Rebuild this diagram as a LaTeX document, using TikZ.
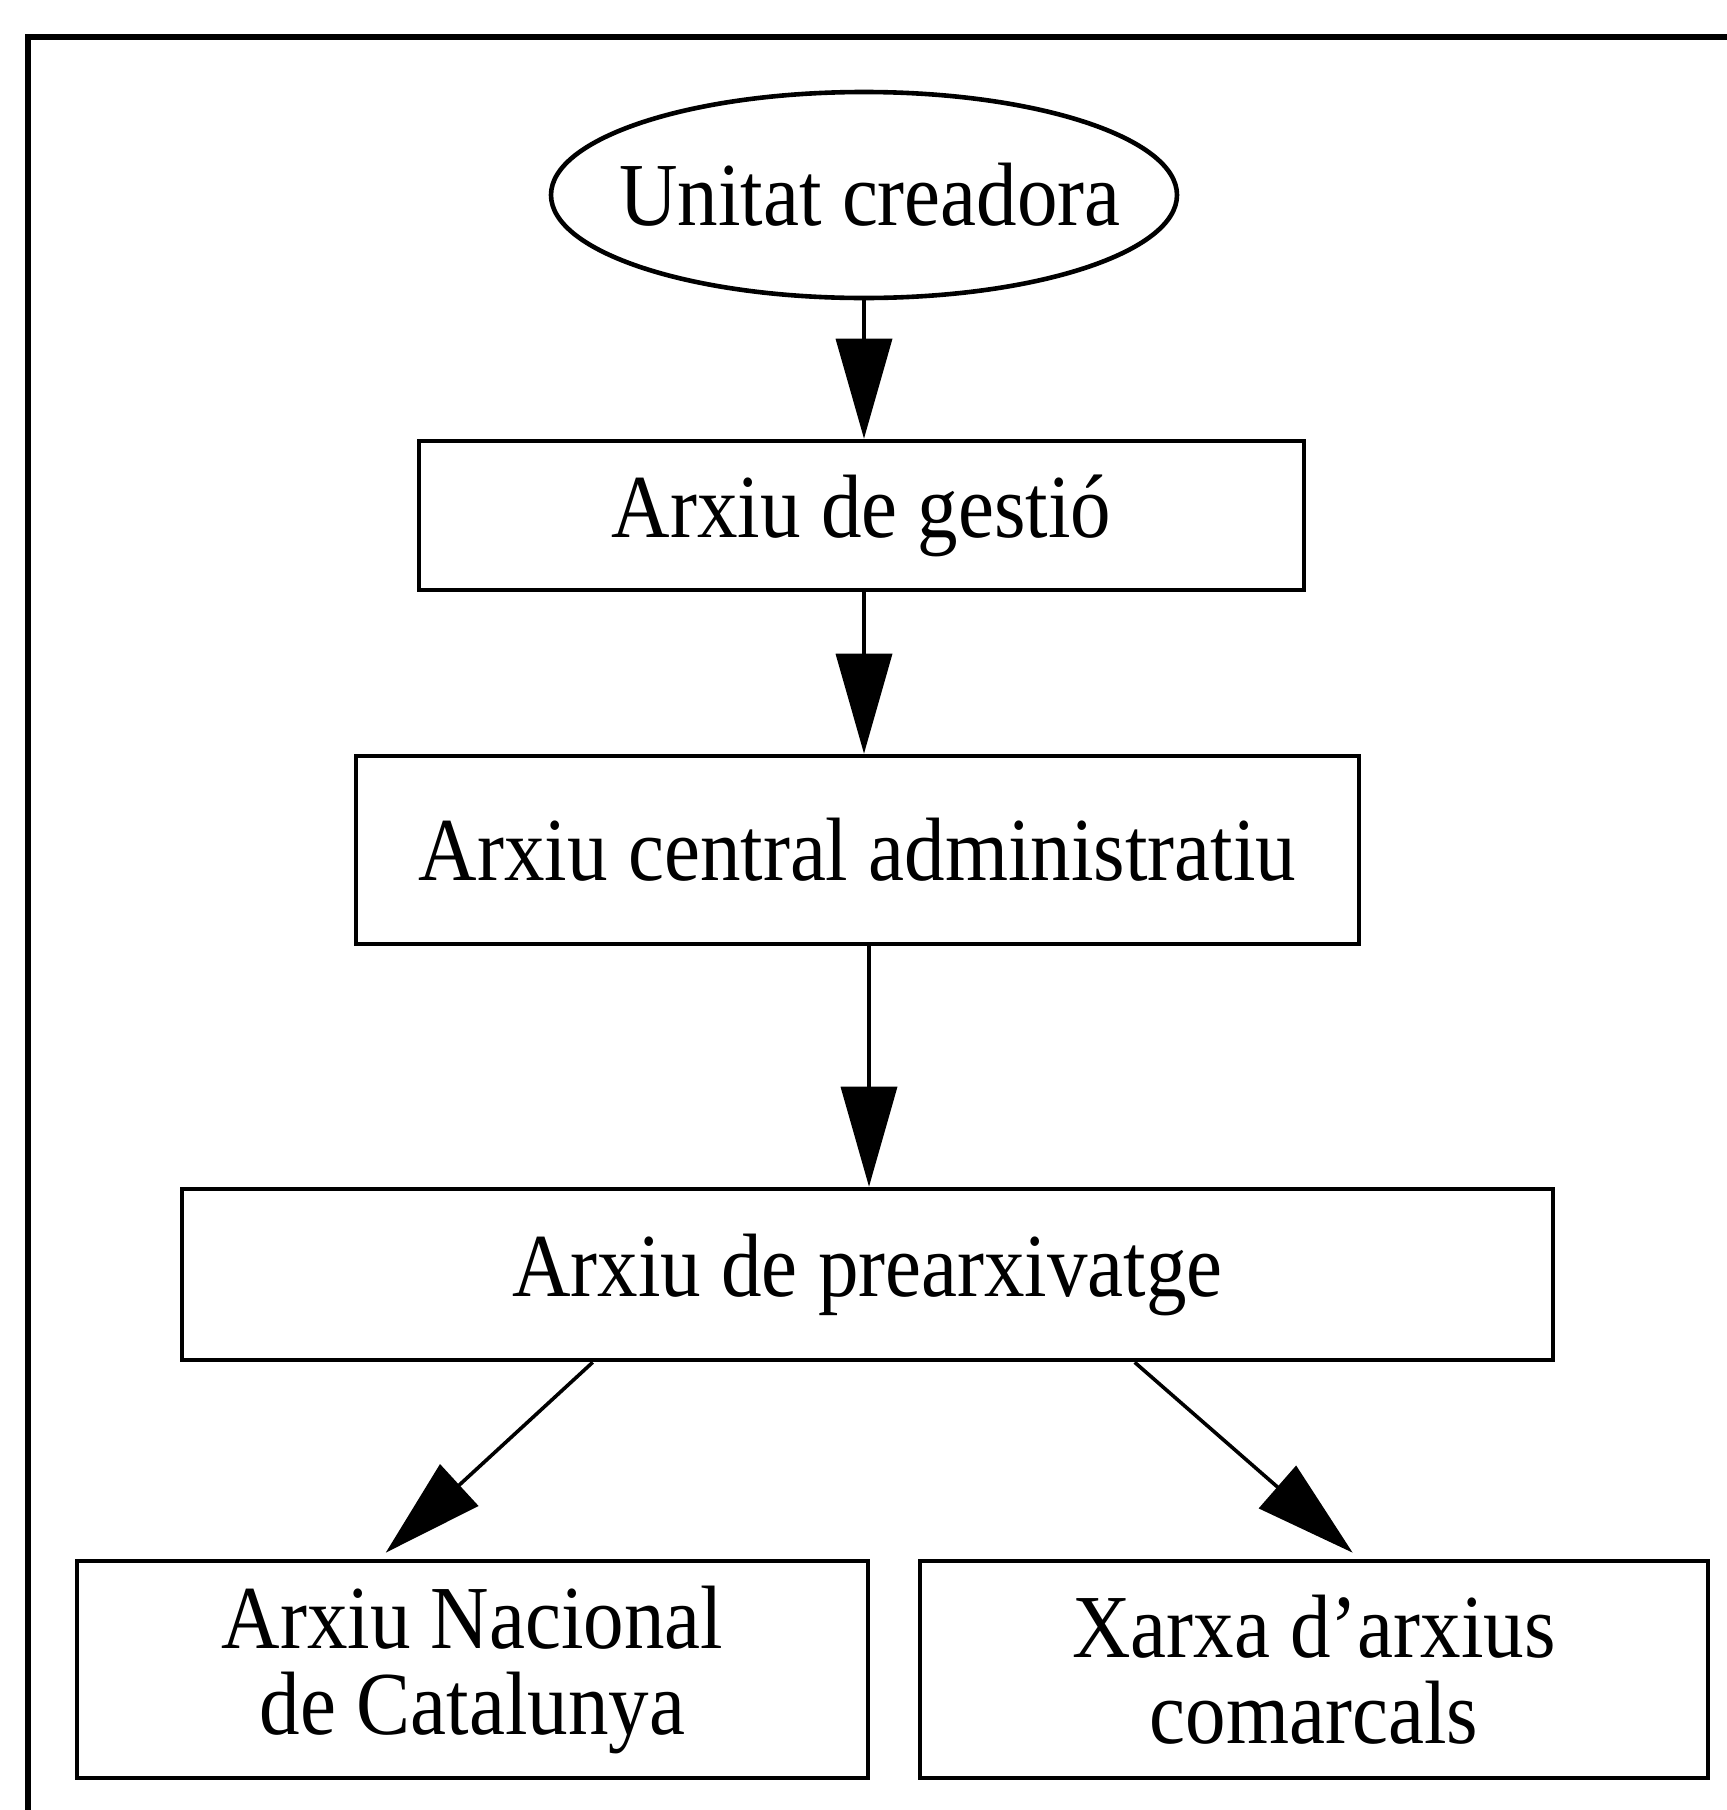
\documentclass[tikz,border=0pt]{standalone}
\usepackage{fontspec}
\setmainfont[FakeStretch=0.9]{Liberation Serif}
\usetikzlibrary{arrows.meta,shapes.geometric,calc}
\begin{document}
\begin{tikzpicture}[x=0.5pt,y=-0.5pt,
  every node/.style={font=\fontsize{45}{43}\selectfont, inner sep=0pt, align=center},
  boxnode/.style={draw, line width=2.3pt, rectangle},
  ellnode/.style={draw, line width=2.3pt, ellipse},
  conn/.style={line width=1.8pt, -{Triangle[length=50pt,width=28pt]}},
  framestyle/.style={line width=2.8pt}
]
\useasboundingbox (0,0) rectangle (1727,1810);
\coordinate (fbot) at (28,1810);
\coordinate (fcorner) at (28,37);
\coordinate (fright) at (1727,37);
\draw[framestyle] (fbot) -- (fcorner) -- (fright);

\node[ellnode, minimum width=313pt, minimum height=103pt] (ell) at (864,195) {\makebox[0pt]{\hspace*{6pt}Unitat creadora}};
\node[boxnode, minimum width=442.5pt, minimum height=74.5pt] (b1) at (861.5,515.5) {Arxiu de gestió};
\node[boxnode, minimum width=501.5pt, minimum height=94pt] (b2) at (857.5,850) {Arxiu central administratiu};
\node[boxnode, minimum width=685.5pt, minimum height=85.5pt] (b3) at (867.5,1274.5) {Arxiu de prearxivatge};
\node[boxnode, minimum width=395.5pt, minimum height=108.5pt] (b4) at (472.5,1669.5) {Arxiu Nacional\\de Catalunya};
\node[boxnode, minimum width=394pt, minimum height=108.5pt] (b5) at (1314,1669.5) {Xarxa d'arxius\\comarcals};

\coordinate (a3s) at ($(b2.south)+(11.5,0)$);
\coordinate (a4s) at ($(b3.south west)+(413,0)$);
\coordinate (a4e) at ($(b4.north west)+(311,-6)$);
\coordinate (a5s) at ($(b3.south west)+(955,0)$);
\coordinate (a5e) at ($(b5.north west)+(435,-6)$);

\draw[conn] (ell.south) -- (ell.south |- b1.north);
\draw[conn] (ell.south |- b1.south) -- (ell.south |- b2.north);
\draw[conn] (a3s) -- (a3s |- b3.north);
\draw[conn] (a4s) -- (a4e);
\draw[conn] (a5s) -- (a5e);
\end{tikzpicture}
\end{document}
